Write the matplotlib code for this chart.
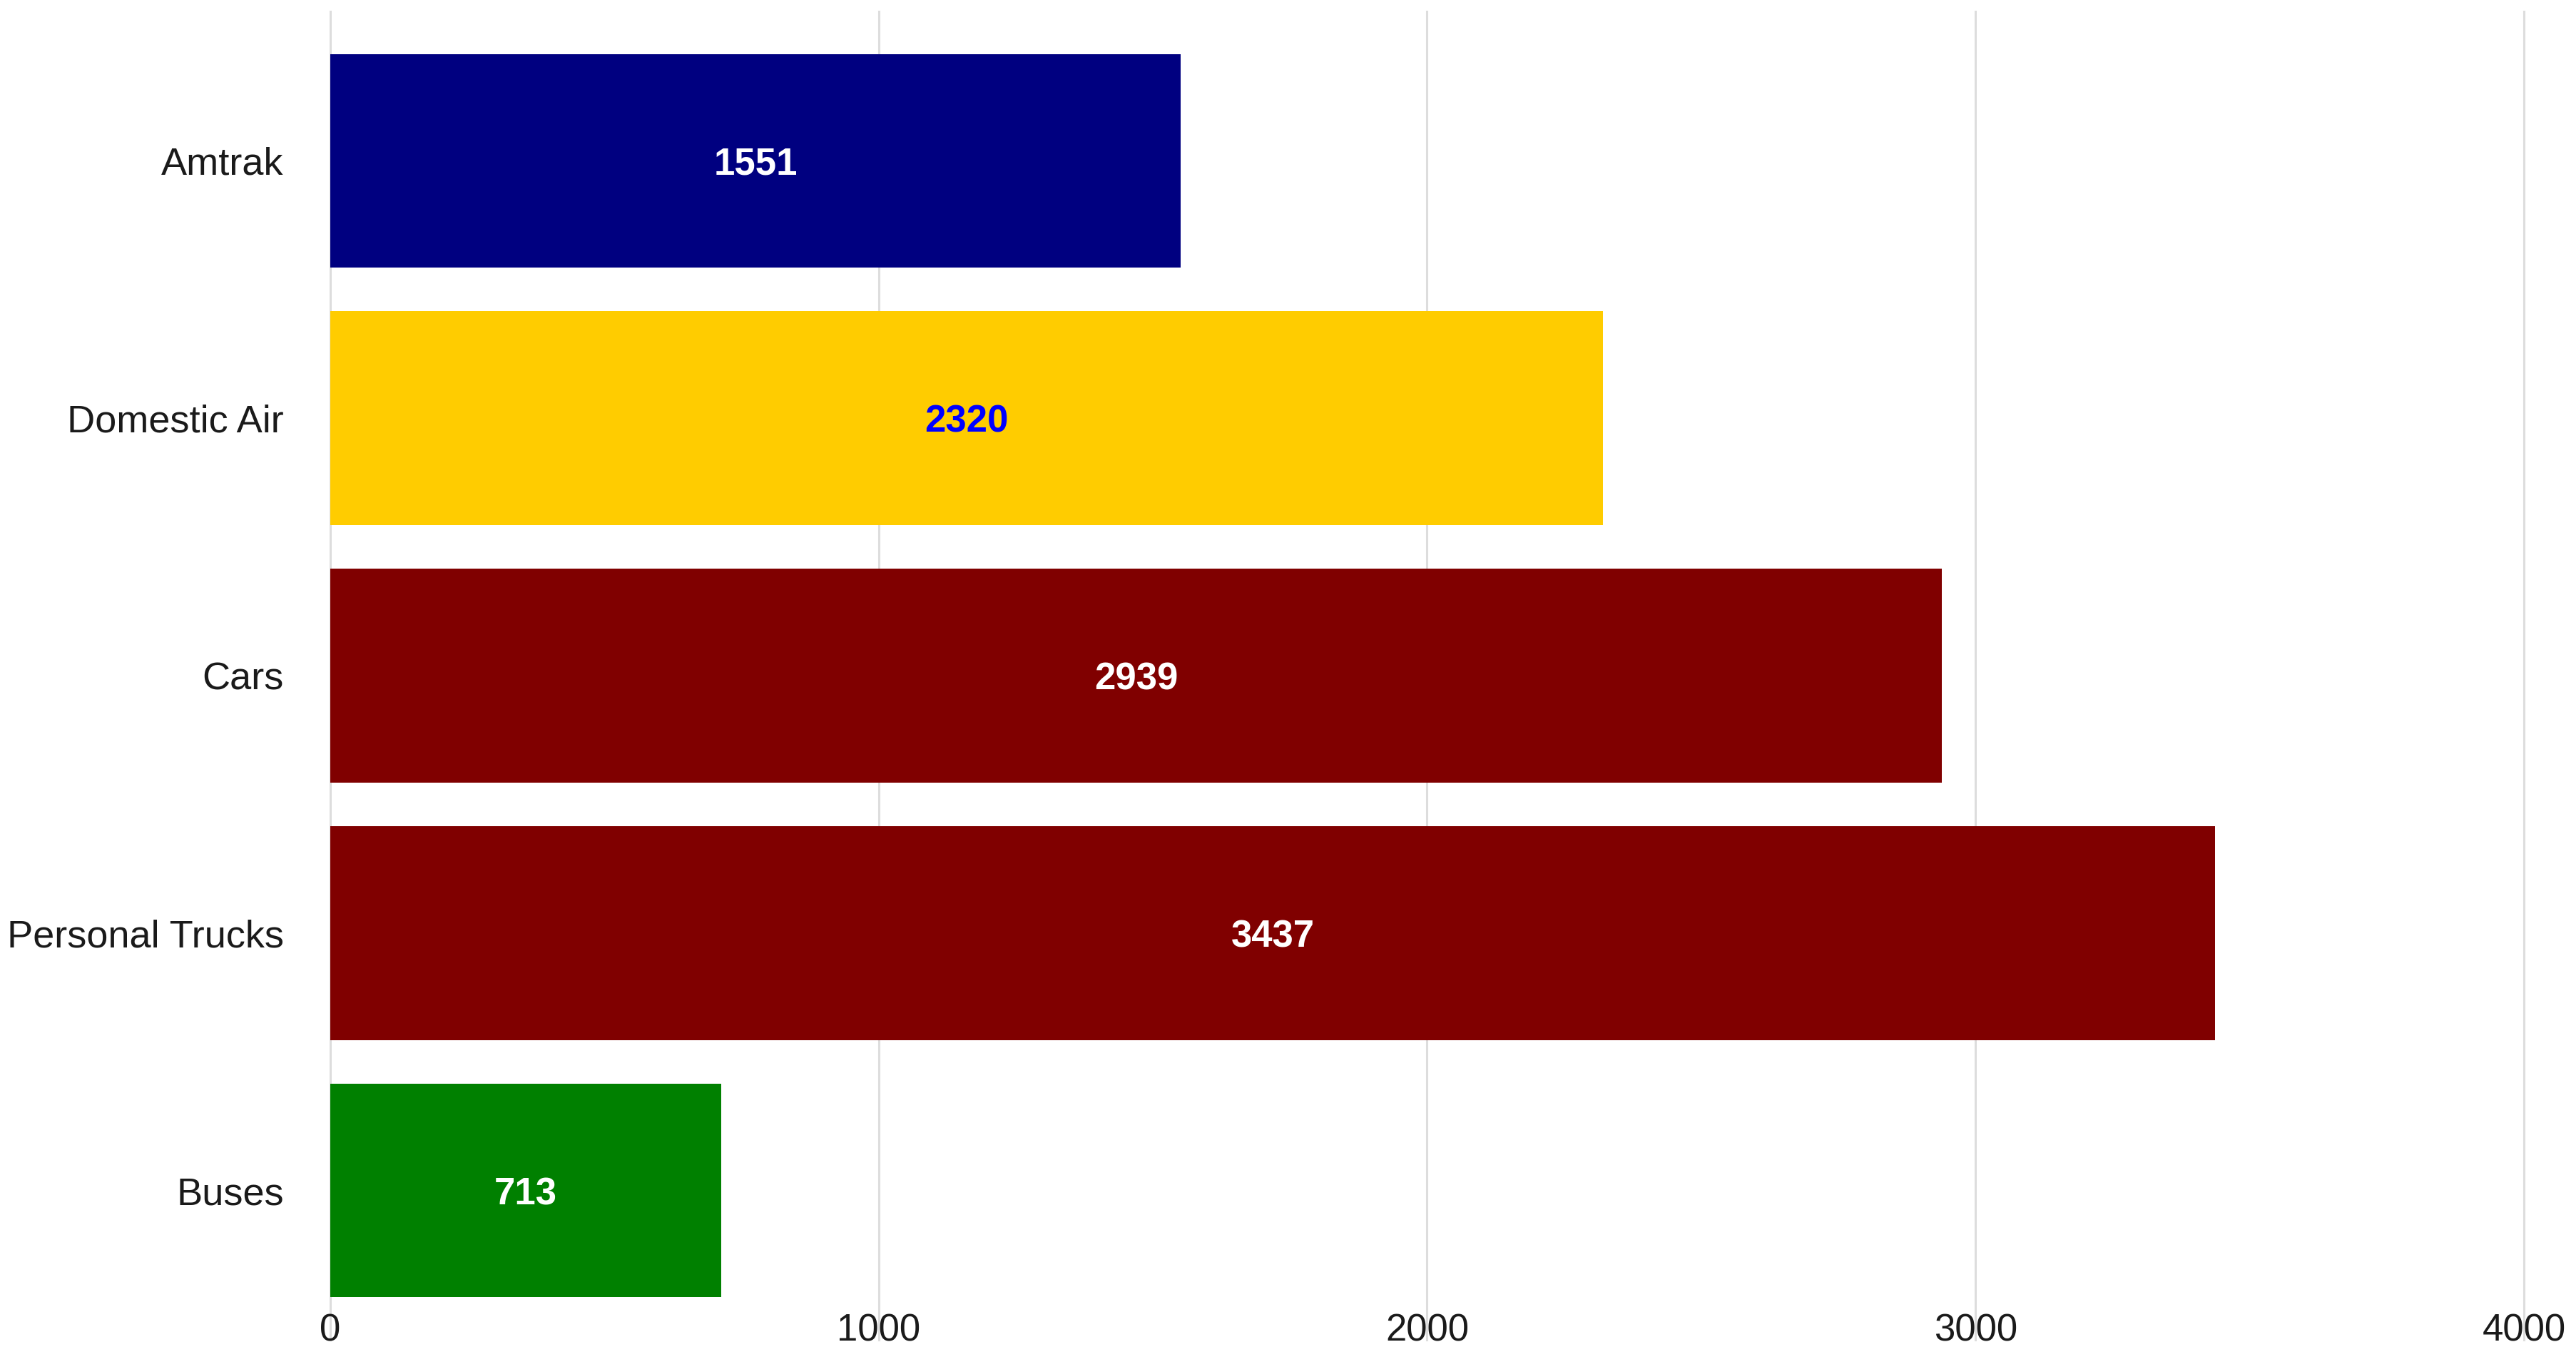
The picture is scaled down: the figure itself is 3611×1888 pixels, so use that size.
import matplotlib
matplotlib.use("Agg")
import matplotlib.pyplot as plt

# Dados
categorias = ["Amtrak", "Domestic Air", "Cars", "Personal Trucks", "Buses"]
valores = [1551, 2320, 2939, 3437, 713]
cores = ["#000080", "#FFCC00", "#800000", "#800000", "#008000"]
cores_texto = ["white", "#0000FF", "white", "white", "white"]
ticks_x = [0, 1000, 2000, 3000, 4000]

plt.rcParams["font.family"] = ["Liberation Sans", "DejaVu Sans"]

fig = plt.figure(figsize=(36.11, 18.88), dpi=100)
ax = fig.add_axes([0.1282, 0.0053, 0.8516, 0.9862])

pos = list(range(len(categorias)))
ax.barh(pos, valores, height=0.83, color=cores, zorder=2)

# Rotulos de valor no centro das barras
for p, v, c in zip(pos, valores, cores_texto):
    ax.text(v / 2, p, str(v), ha="center", va="center_baseline", color=c,
            fontsize=38, fontweight="bold", zorder=3)

ax.set_xlim(0, 4000)
ax.set_ylim(4.58, -0.58)
ax.set_xticks(ticks_x)
ax.set_xticklabels([str(t) for t in ticks_x])
ax.set_yticks(pos)
ax.set_yticklabels(categorias)

ax.grid(axis="x", color="#dddddd", linewidth=2.2, zorder=0)
ax.set_axisbelow(True)
for linha in ax.get_xgridlines():
    linha.set_clip_on(False)
for s in ax.spines.values():
    s.set_visible(False)

ax.tick_params(axis="y", length=0, pad=47, labelsize=39, labelcolor="#1a1a1a")
ax.tick_params(axis="x", length=0, pad=-27, labelsize=38, labelcolor="#1a1a1a")

fig.savefig("out.png", dpi=100, facecolor="white")
